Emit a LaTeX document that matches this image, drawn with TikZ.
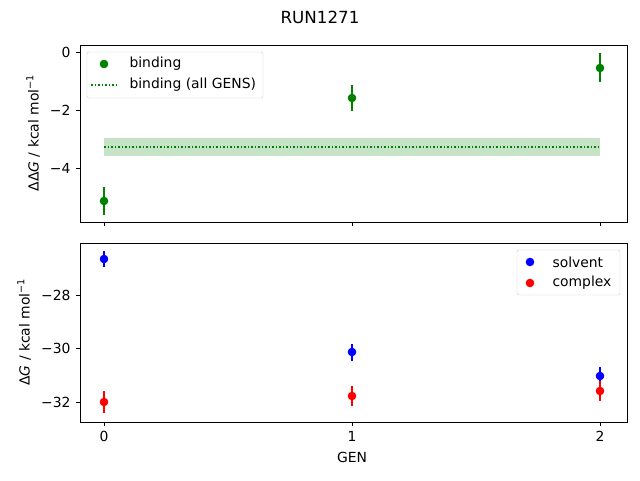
\documentclass[tikz,border=0pt]{standalone}
\usepackage{fontspec}
\setmainfont{DejaVu Sans}
\begin{document}
\begin{tikzpicture}
    [x=1pt, y=-1pt, font=\fontsize{13.9}{16}\selectfont,
      frame/.style={draw=black, line width=0.8pt},
      tick/.style={line width=0.8pt},
      errbar/.style={line width=1.5pt},
      dot/.style={circle, inner sep=0pt, minimum size=8.5pt}]
    \useasboundingbox (0,0) rectangle (640,480);

    % title
    \node[font=\fontsize{16.7}{19}\selectfont] (title) at (320,17) {RUN1271};

    % top panel: binding
    \fill[green!50!black, opacity=0.22] (104,138) rectangle (600,156);
    \draw[green!50!black, dotted, line width=1.5pt] (104,147) -- (600,147);
    \foreach \x/\y/\lo/\hi in {104/201/187/215, 352/98/85/111, 600/68/53/82}
      {\draw[errbar, green!50!black] (\x,\lo) -- (\x,\hi);
       \fill[green!50!black] (\x,\y) circle (4.3);}
    \draw[frame] (80,45) rectangle (627,222);
    \foreach \y/\t in {52/0, 110/−2, 168/−4}
      {\draw[tick] (80,\y) -- (76,\y);
       \node[anchor=east] at (74,\y) {\t};}
    \foreach \x in {104,352,600} \draw[tick] (\x,222) -- (\x,226);
    \node[rotate=90] (ylabtop) at (33,133) {ΔΔ\textit{G} / kcal mol\textsuperscript{−1}};

    % top legend
    \draw[black!20, fill=white, rounded corners=2pt] (87,52) rectangle (263,98);
    \fill[green!50!black] (104,64) circle (4.3);
    \node[anchor=west] (legbind) at (126,64) {binding};
    \draw[green!50!black, dotted, line width=1.5pt] (91,85) -- (119,85);
    \node[anchor=west] (legall) at (126,85) {binding (all GENS)};

    % bottom panel: solvent and complex
    \foreach \x/\y/\lo/\hi in {104/259/251/267, 352/352/344/361, 600/376/367/386}
      {\draw[errbar, blue] (\x,\lo) -- (\x,\hi);
       \fill[blue] (\x,\y) circle (4.3);}
    \foreach \x/\y/\lo/\hi in {104/402/391/413, 352/396/386/406, 600/391/381/401}
      {\draw[errbar, red] (\x,\lo) -- (\x,\hi);
       \fill[red] (\x,\y) circle (4.3);}
    \draw[frame] (80,243) rectangle (627,422);
    \foreach \y/\t in {295/−28, 348/−30, 402/−32}
      {\draw[tick] (80,\y) -- (76,\y);
       \node[anchor=east] at (74,\y) {\t};}
    \foreach \x/\t in {104/0, 352/1, 600/2}
      {\draw[tick] (\x,422) -- (\x,426);
       \node[anchor=north] at (\x,428) {\t};}
    \node[rotate=90] (ylabbot) at (24,332) {Δ\textit{G} / kcal mol\textsuperscript{−1}};
    \node (xlab) at (352,457) {GEN};

    % bottom legend
    \draw[black!20, fill=white, rounded corners=2pt] (517,250) rectangle (620,295);
    \fill[blue] (530,262) circle (4.3);
    \node[anchor=west] (legsolv) at (549,262) {solvent};
    \fill[red] (530,283) circle (4.3);
    \node[anchor=west] (legcplx) at (549,283) {complex};
\end{tikzpicture}
\end{document}
